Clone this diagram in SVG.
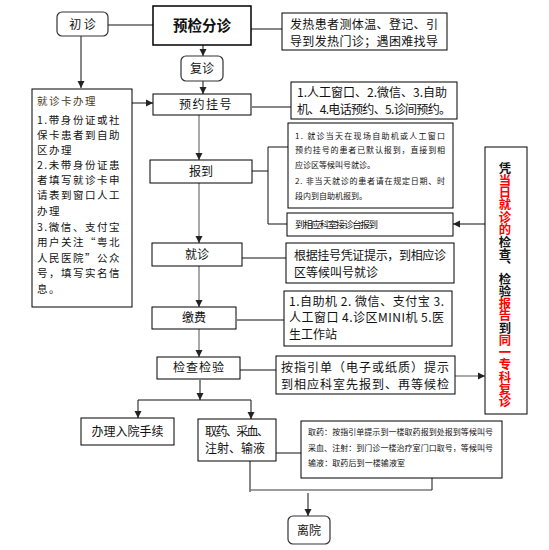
<svg xmlns="http://www.w3.org/2000/svg" width="549" height="550" viewBox="0 0 549 550">
<defs>
<marker id="ah" markerUnits="userSpaceOnUse" markerWidth="8" markerHeight="8" refX="7" refY="4" orient="auto">
<path d="M0,0.5 L7,4 L0,7.5 z" fill="#222"/>
</marker>
<style>
text{font-family:"Noto Sans CJK SC","Noto Sans",sans-serif;fill:#111;}
.box{fill:#fff;stroke:#000;stroke-width:1;}
.rbox{fill:#fff;stroke:#333;stroke-width:1.2;}
.ln{fill:none;stroke:#111;stroke-width:1;}
.gl{fill:none;stroke:#7a7a7a;stroke-width:1.3;}
.t12{font-size:12px;}
.t8{font-size:8px;}
.tl{font-size:10.5px;letter-spacing:1.5px;}
.c{text-anchor:middle;}
.red{fill:#ff0000;}
</style>
</defs>
<rect width="549" height="550" fill="#fff"/>

<g id="connectors">
<line class="ln" x1="108" y1="25" x2="153" y2="25"/>
<line class="ln" x1="251" y1="29" x2="282" y2="29"/>
<line class="ln" x1="81" y1="36" x2="81" y2="88" marker-end="url(#ah)"/>
<line class="ln" x1="203" y1="45" x2="203" y2="56" marker-end="url(#ah)"/>
<line class="ln" x1="203" y1="81" x2="203" y2="94" marker-end="url(#ah)"/>
<line class="ln" x1="132" y1="103" x2="153" y2="103" marker-end="url(#ah)"/>
<line class="ln" x1="252" y1="107" x2="291" y2="107"/>
<line class="gl" x1="199" y1="115" x2="199" y2="160" marker-end="url(#ah)"/>
<polyline class="ln" points="252,171 268,171"/>
<polyline class="ln" points="288,147 268,147 268,224 287,224"/>
<line class="ln" x1="485" y1="224" x2="453" y2="224" marker-end="url(#ah)"/>
<line class="gl" x1="199" y1="183" x2="199" y2="243" marker-end="url(#ah)"/>
<line class="ln" x1="242" y1="258" x2="286" y2="258"/>
<line class="gl" x1="199" y1="266" x2="199" y2="307" marker-end="url(#ah)"/>
<line class="ln" x1="237" y1="320" x2="284" y2="320"/>
<line class="gl" x1="199" y1="329" x2="199" y2="357" marker-end="url(#ah)"/>
<line class="ln" x1="240" y1="370" x2="276" y2="370"/>
<line class="gl" x1="455" y1="376" x2="485" y2="376" marker-end="url(#ah)"/>
<line class="ln" x1="200" y1="380" x2="200" y2="400" marker-end="url(#ah)"/>
<line class="ln" x1="138" y1="400" x2="251" y2="400"/>
<line class="ln" x1="138" y1="400" x2="138" y2="418" marker-end="url(#ah)"/>
<line class="ln" x1="251" y1="400" x2="251" y2="419" marker-end="url(#ah)"/>
<line class="ln" x1="276" y1="453" x2="301" y2="453"/>
<line class="ln" x1="250" y1="461" x2="250" y2="492"/>
<line class="gl" x1="250" y1="490" x2="432" y2="490"/>
<line class="ln" x1="432" y1="478" x2="432" y2="490"/>
<line class="ln" x1="308" y1="493" x2="308" y2="516" marker-end="url(#ah)"/>
</g>

<g id="chuzhen">
<rect class="rbox" x="57" y="12" width="51" height="24" rx="5"/>
<text class="t12 c" x="82.5" y="28.5">初 诊</text>
</g>

<g id="yujian">
<rect class="box" x="153" y="6" width="98" height="39" style="stroke-width:1.5"/>
<text class="c" x="202" y="31" style="font-size:14.5px;font-weight:bold">预检分诊</text>
</g>

<g id="fare">
<rect class="box" x="282" y="13" width="165" height="37"/>
<text class="t12" x="290" y="28.5" textLength="148">发热患者测体温、登记、引</text>
<text class="t12" x="290" y="46" textLength="148">导到发热门诊；遇困难找导</text>
</g>

<g id="fuzhen">
<rect class="rbox" x="181" y="56" width="42" height="25" rx="5"/>
<text class="t12 c" x="202" y="72.5">复诊</text>
</g>

<g id="yuyue">
<rect class="box" x="153" y="94" width="98" height="21"/>
<text class="t12 c" x="206" y="109" style="letter-spacing:1.5px">预约挂号</text>
</g>

<g id="yuyue-ways">
<rect class="box" x="291" y="82" width="166" height="37"/>
<text class="t12" x="297" y="97" textLength="150">1.人工窗口、2.微信、3.自助</text>
<text class="t12" x="297" y="114" textLength="154">机、4.电话预约、5.诊间预约。</text>
</g>

<g id="card">
<rect class="box" x="32" y="89" width="100" height="218"/>
<text class="tl" x="37" y="105" style="fill:#4a3a20">就诊卡办理</text>
<text class="tl" x="37" y="124" textLength="84">1.带身份证或社</text>
<text class="tl" x="37" y="139" textLength="84">保卡患者到自助</text>
<text class="tl" x="37" y="154">区办理</text>
<text class="tl" x="37" y="169" textLength="84">2.未带身份证患</text>
<text class="tl" x="37" y="184" textLength="84">者填写就诊卡申</text>
<text class="tl" x="37" y="199" textLength="84">请表到窗口人工</text>
<text class="tl" x="37" y="215">办理</text>
<text class="tl" x="37" y="231" textLength="84">3.微信、支付宝</text>
<text class="tl" x="37" y="246" textLength="84">用户关注“粤北</text>
<text class="tl" x="37" y="262" textLength="84">人民医院”公众</text>
<text class="tl" x="37" y="277" textLength="84">号，填写实名信</text>
<text class="tl" x="37" y="293">息。</text>
</g>

<g id="baodao">
<rect class="box" x="150" y="160" width="102" height="23"/>
<text class="t12 c" x="201" y="176">报到</text>
</g>

<g id="baodao-note">
<rect class="box" x="288" y="123" width="165" height="85"/>
<text class="t8" x="295" y="139" textLength="150">1. 就诊当天在现场自助机或人工窗口</text>
<text class="t8" x="295" y="153" textLength="150">预约挂号的患者已默认报到，直接到相</text>
<text class="t8" x="295" y="168">应诊区等候叫号就诊。</text>
<text class="t8" x="295" y="184" textLength="150">2. 非当天就诊的患者请在规定日期、时</text>
<text class="t8" x="295" y="199">段内到自助机报到。</text>
</g>

<g id="jiezhen">
<rect class="box" x="287" y="213" width="166" height="23"/>
<text x="295" y="228" style="font-size:9.5px" textLength="83">到相应科室接诊台报到</text>
</g>

<g id="jiuzhen">
<rect class="box" x="152" y="243" width="90" height="23"/>
<text class="t12 c" x="197" y="259">就诊</text>
</g>

<g id="jiuzhen-note">
<rect class="box" x="286" y="243" width="168" height="40"/>
<text class="t12" x="294" y="260" textLength="152">根据挂号凭证提示，到相应诊</text>
<text class="t12" x="294" y="277">区等候叫号就诊</text>
</g>

<g id="jiaofei">
<rect class="box" x="152" y="307" width="84" height="22"/>
<text class="t12 c" x="194" y="322">缴费</text>
</g>

<g id="jiaofei-note">
<rect class="box" x="284" y="291" width="168" height="55"/>
<text class="t12" x="289" y="306" textLength="155">1.自助机 2. 微信、支付宝 3.</text>
<text class="t12" x="289" y="322" textLength="155">人工窗口 4.诊区MINI机 5.医</text>
<text class="t12" x="289" y="339">生工作站</text>
</g>

<g id="jiancha">
<rect class="box" x="157" y="357" width="83" height="22"/>
<text class="t12 c" x="199" y="372" style="letter-spacing:1px">检查检验</text>
</g>

<g id="jiancha-note">
<rect class="box" x="276" y="356" width="179" height="38"/>
<text class="t12" x="281" y="371.5" textLength="168">按指引单（电子或纸质）提示</text>
<text class="t12" x="281" y="389" textLength="168">到相应科室先报到、再等候检</text>
</g>

<g id="fuzhen-note">
<rect class="box" x="485" y="147" width="42" height="267"/>
<text x="505" y="162" writing-mode="vertical-rl" style="font-size:12.3px;font-weight:bold">凭<tspan class="red">当日就诊的</tspan>检查、检验<tspan class="red">报告</tspan>到<tspan class="red">同一专科复诊</tspan></text>
</g>

<g id="ruyuan">
<rect class="box" x="81" y="418" width="93" height="27"/>
<text class="t12 c" x="127.5" y="436">办理入院手续</text>
</g>

<g id="quyao">
<rect class="box" x="198" y="419" width="78" height="42"/>
<text class="t12" x="205" y="436" textLength="64">取药、采血、</text>
<text class="t12" x="205" y="453" textLength="60">注射、输液</text>
</g>

<g id="quyao-note">
<rect class="box" x="301" y="421" width="201" height="57"/>
<text class="t8" x="308" y="435" textLength="185">取药：按指引单提示到一楼取药报到处报到等候叫号</text>
<text class="t8" x="308" y="451" textLength="185">采血、注射：到门诊一楼治疗室门口取号，等候叫号</text>
<text class="t8" x="308" y="466" textLength="97">输液：取药后到一楼输液室</text>
</g>

<g id="liyuan">
<rect class="rbox" x="288" y="516" width="42" height="28" rx="5"/>
<text class="t12 c" x="309" y="534.5">离院</text>
</g>
</svg>
